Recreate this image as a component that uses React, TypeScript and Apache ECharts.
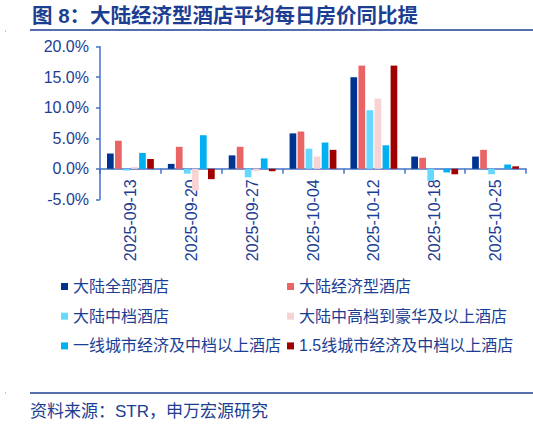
import { useEffect, useRef } from "react";
import * as echarts from "echarts";

const categories = [
  "2025-09-13",
  "2025-09-20",
  "2025-09-27",
  "2025-10-04",
  "2025-10-12",
  "2025-10-18",
  "2025-10-25",
];

const seriesNames = [
  "大陆全部酒店",
  "大陆经济型酒店",
  "大陆中档酒店",
  "大陆中高档到豪华及以上酒店",
  "一线城市经济及中档以上酒店",
  "1.5线城市经济及中档以上酒店",
];

const allHotels = [2.5, 0.8, 2.2, 5.8, 15.0, 2.0, 2.0];
const economyHotels = [4.6, 3.6, 3.6, 6.1, 16.9, 1.8, 3.1];
const midscaleHotels = [-0.3, -0.8, -1.4, 3.3, 9.6, -2.0, -0.9];
const upscaleHotels = [0.3, -3.6, -0.4, 2.0, 11.5, 0, 0];
const tier1Hotels = [2.6, 5.5, 1.7, 4.3, 3.85, -0.6, 0.7];
const tier15Hotels = [1.6, -1.7, -0.4, 3.1, 16.9, -0.9, 0.4];

const seriesColors = ["#00338f", "#e96464", "#66d8ff", "#f8d3d3", "#00b0f0", "#a00000"];

const yTicks = [-5, 0, 5, 10, 15, 20];

const TEXT = "#1c3e92";
const AXIS = "#4472c4";
const FONT = "'Liberation Sans', 'Noto Sans CJK SC', sans-serif";

export default function App() {
  const chartRef = useRef<HTMLDivElement>(null);

  useEffect(() => {
    document.body.style.margin = "0";
    if (!chartRef.current) return;
    const chart = echarts.init(chartRef.current, undefined, { renderer: "svg" });

    const values = [allHotels, economyHotels, midscaleHotels, upscaleHotels, tier1Hotels, tier15Hotels];

    const legendText = { color: TEXT, fontSize: 16, fontFamily: FONT, lineHeight: 16 };

    const option: echarts.EChartsOption = {
      animation: false,
      backgroundColor: "#ffffff",
      grid: { left: 100, right: 7, top: 46.7, bottom: 228.7, containLabel: false },
      legend: [
        {
          data: [seriesNames[0], seriesNames[2], seriesNames[4]],
          orient: "vertical",
          left: 61,
          top: 278.5,
          itemWidth: 7,
          itemHeight: 7,
          itemGap: 13.7,
          icon: "rect",
          textStyle: legendText,
          padding: 0,
        },
        {
          data: [seriesNames[1], seriesNames[3], seriesNames[5]],
          orient: "vertical",
          left: 287,
          top: 278.5,
          itemWidth: 7,
          itemHeight: 7,
          itemGap: 13.7,
          icon: "rect",
          textStyle: legendText,
          padding: 0,
        },
      ],
      xAxis: {
        type: "category",
        data: categories,
        axisLine: { onZero: true, lineStyle: { color: AXIS, width: 1.5 } },
        axisTick: { show: true, length: 5, lineStyle: { color: AXIS, width: 1.5 } },
        axisLabel: {
          rotate: 90,
          margin: -20,
          color: TEXT,
          fontSize: 16,
          fontFamily: FONT,
        },
      },
      yAxis: {
        type: "value",
        min: yTicks[0],
        max: yTicks[yTicks.length - 1],
        interval: 5,
        axisLine: { show: true, lineStyle: { color: AXIS, width: 1.5 } },
        axisTick: { show: true, length: 4, lineStyle: { color: AXIS, width: 1.5 } },
        splitLine: { show: false },
        axisLabel: {
          margin: 11,
          color: TEXT,
          fontSize: 16,
          fontFamily: FONT,
          formatter: (v: number) => v.toFixed(1) + "%",
        },
      },
      series: seriesNames.map((name, i) => ({
        name,
        type: "bar",
        data: values[i],
        barGap: "20%",
        barCategoryGap: "23%",
        itemStyle: { color: seriesColors[i] },
      })),
      graphic: [
        {
          type: "text",
          left: 32,
          top: 5,
          style: {
            text: "图 8：大陆经济型酒店平均每日房价同比提",
            fill: TEXT,
            fontSize: 20.5,
            fontWeight: "bold",
            fontFamily: FONT,
          },
        },
        {
          type: "line",
          shape: { x1: 30, y1: 30, x2: 533, y2: 30 },
          style: { stroke: "#1c3e92", lineWidth: 1.5 },
        },
        {
          type: "line",
          shape: { x1: 30, y1: 393, x2: 533, y2: 393 },
          style: { stroke: "#1c3e92", lineWidth: 1.5 },
        },
        {
          type: "rect",
          shape: { x: 5, y: 30, width: 1, height: 2 },
          style: { fill: "#b8c2d8" },
        },
        {
          type: "rect",
          shape: { x: 5, y: 392, width: 1, height: 2 },
          style: { fill: "#b8c2d8" },
        },
        {
          type: "text",
          left: 30,
          top: 403,
          style: {
            text: "资料来源：STR，申万宏源研究",
            fill: TEXT,
            fontSize: 17,
            fontFamily: FONT,
          },
        },
      ],
    };

    chart.setOption(option);

    return () => {
      chart.dispose();
    };
  }, []);

  return <div ref={chartRef} style={{ width: 533, height: 428 }} />;
}
